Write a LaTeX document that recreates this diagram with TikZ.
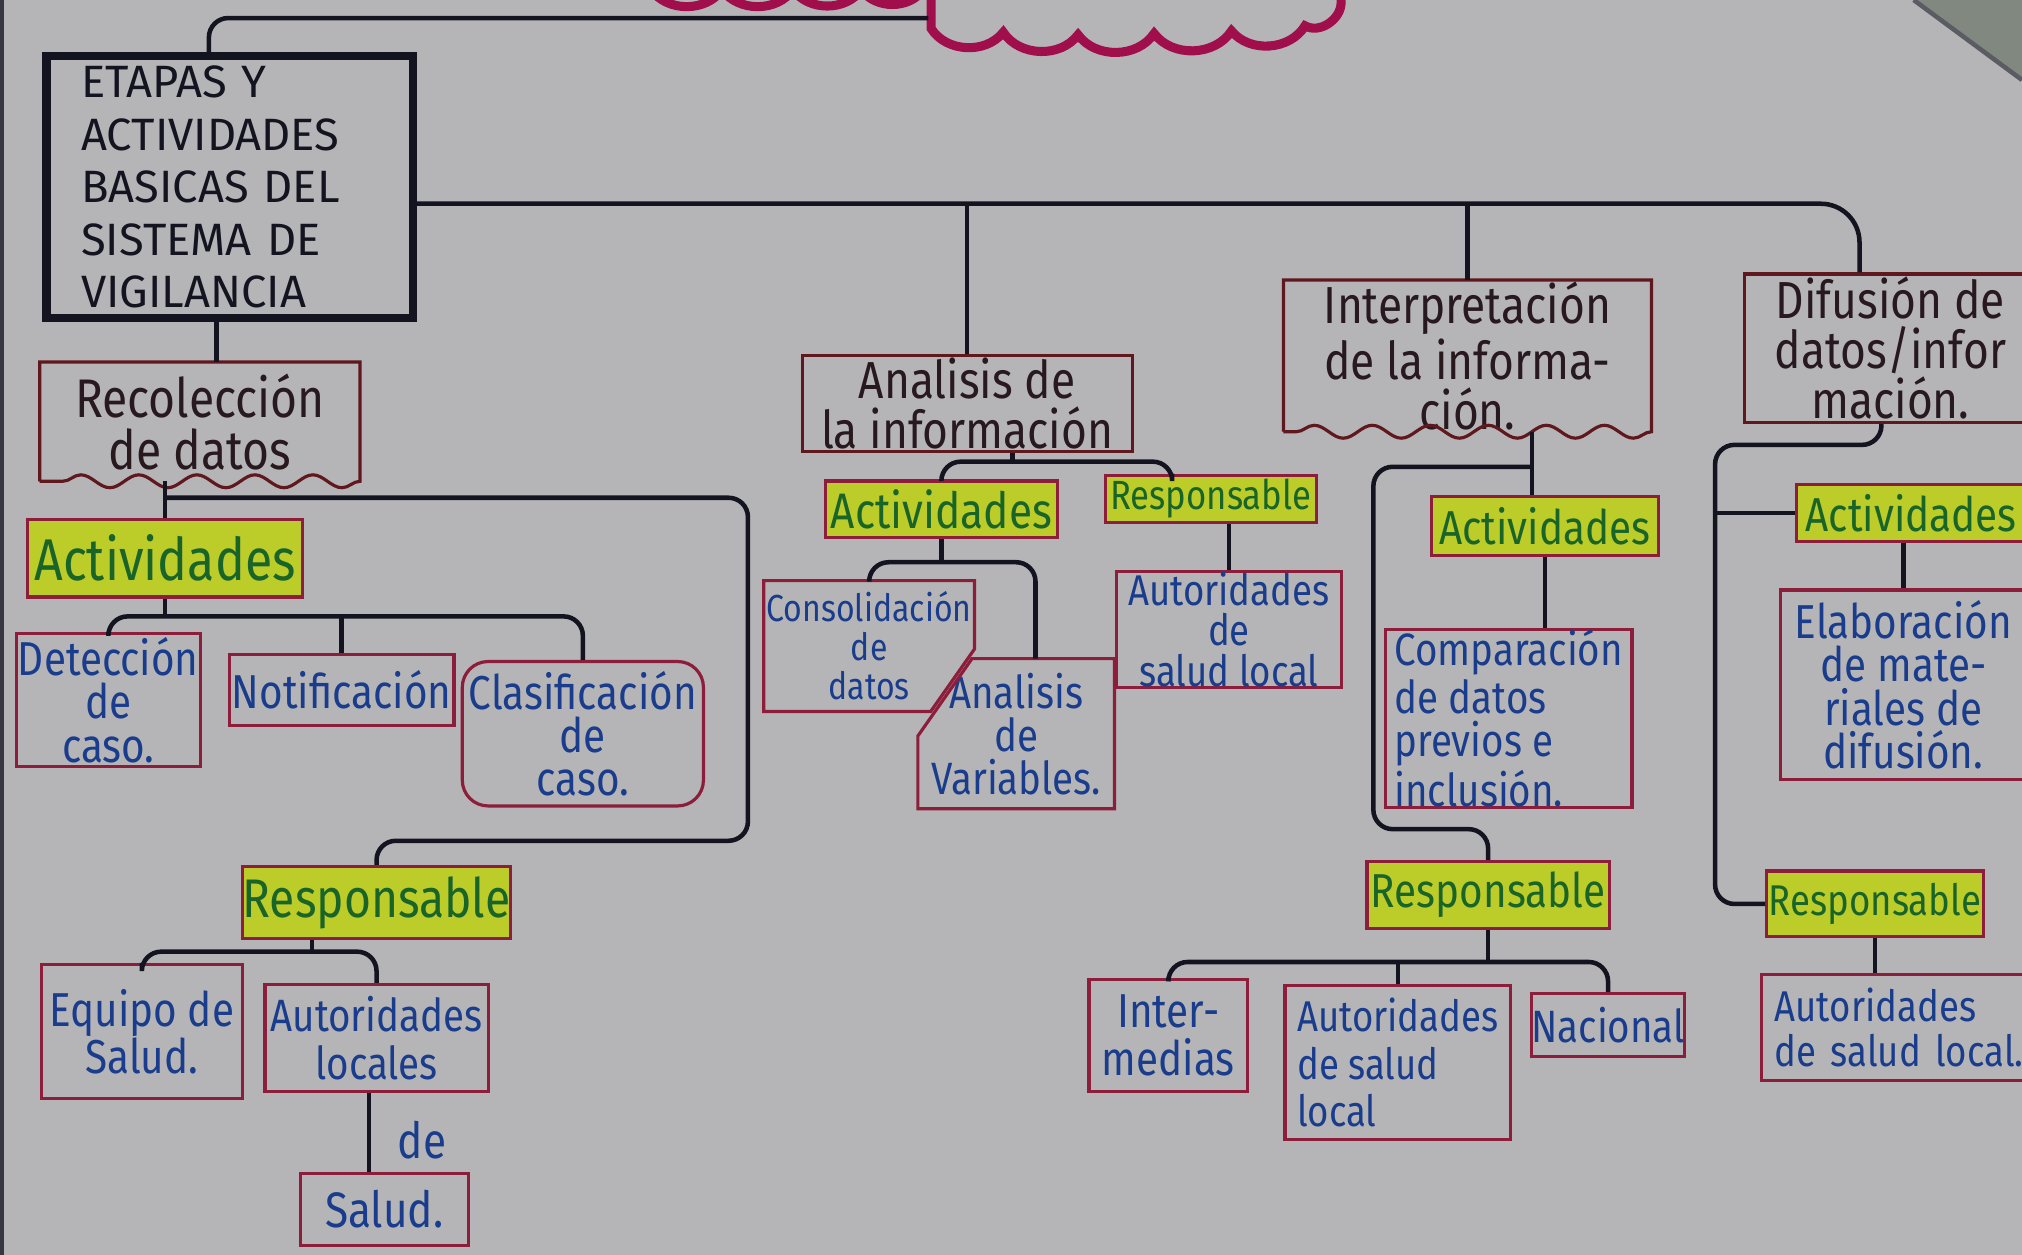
\documentclass[tikz,border=0pt]{standalone}
\usepackage{fontspec}
\setmainfont[FakeStretch=0.85]{Fira Sans}
\newfontfamily\titulo{Fira Sans}
\usetikzlibrary{decorations.pathmorphing}
\pgfdeclarelayer{bg}
\pgfsetlayers{bg,main}
\definecolor{papel}{RGB}{181,181,183}
\definecolor{tinta}{RGB}{20,20,32}
\definecolor{rojo}{RGB}{140,30,60}
\definecolor{rojoosc}{RGB}{95,25,30}
\definecolor{oscuro}{RGB}{40,25,30}
\definecolor{azul}{RGB}{25,60,140}
\definecolor{verde}{RGB}{25,100,40}
\definecolor{resalte}{RGB}{188,204,40}
\definecolor{magenta}{RGB}{160,15,75}
\definecolor{esquina}{RGB}{128,136,128}
\tikzset{
  enlace/.style={draw=tinta, line width=1pt, rounded corners=1.5mm},
  caja/.style={draw=rojo, line width=0.7pt, inner sep=0pt, align=center},
  contorno/.style={draw=rojoosc, line width=0.7pt},
  ola/.style={decoration={snake, amplitude=0.5mm, segment length=4.5mm}},
  principal/.style={draw=tinta, line width=1.8pt, inner sep=0pt, align=left,
    text=tinta, font=\titulo\fontsize{10}{11.6}\selectfont},
  etapa/.style={caja, draw=rojoosc, text=oscuro, font=\fontsize{12}{11.5}\selectfont},
  hoja/.style={caja, text=azul, font=\fontsize{10}{9.5}\selectfont},
  marca/.style={caja, fill=resalte, text=verde, font=\fontsize{11}{11}\selectfont},
  nube/.style={draw=magenta, line width=2pt},
}

\begin{document}
\begin{tikzpicture}[x=0.1mm,y=-0.1mm]
\useasboundingbox (0,0) rectangle (1568,973);
\begin{pgfonlayer}{bg}
  \fill[papel] (0,0) rectangle (1568,973);
  \fill[tinta!85] (0,0) rectangle (3,973);
  \fill[esquina] (1484,0) -- (1568,0) -- (1568,62) -- cycle;
  \draw[tinta!70, line width=1pt] (1484,0) -- (1568,62);
\end{pgfonlayer}

% titulo (cortado arriba)
\draw[nube] (722,0) -- (722,22) to[bend right=55] (778,25) to[bend right=55] (836,27)
  to[bend right=55] (895,26) to[bend right=55] (955,24) to[bend right=55] (1012,20)
  to[out=-30,in=-90] (1040,2) -- (1040,0);
\draw[nube] (505,-8) to[bend right=55] (560,-8) to[bend right=55] (615,-8)
  to[bend right=55] (668,-8) to[bend right=55] (716,-8);
\coordinate (tit) at (720,14);

\node[principal, minimum width=28.4mm, minimum height=20.3mm, text width=23mm] (main) at (178,145)
  {ETAPAS Y\\ACTIVIDADES\\BASICAS DEL\\SISTEMA DE\\VIGILANCIA};

% recoleccion de datos
\node[etapa, draw=none, minimum width=24.6mm, minimum height=9mm] (recol) at (155,327) {Recolección\\de datos};
\draw[contorno] (recol.south west) -- (recol.north west) -- (recol.north east) -- (recol.south east)
  decorate[ola]{-- (recol.south west)};
\node[marca, minimum width=21.3mm, minimum height=6mm, font=\fontsize{13}{13}\selectfont] (actL) at (128,433) {Actividades};
\node[hoja, minimum width=14.3mm, minimum height=10.3mm, font=\fontsize{10.5}{9.5}\selectfont] (dete) at (84,543) {Detección\\de\\caso.};
\node[hoja, minimum width=17.4mm, minimum height=5.5mm, font=\fontsize{10.5}{9.5}\selectfont] (noti) at (265,535) {Notificación};
\node[hoja, minimum width=18.7mm, minimum height=11.2mm, rounded corners=2mm, font=\fontsize{10.5}{9.5}\selectfont] (clas) at (452,569) {Clasificación\\de\\caso.};
\node[marca, minimum width=20.7mm, minimum height=5.6mm, font=\fontsize{12}{12}\selectfont] (respL) at (292,700) {Responsable};
\node[hoja, minimum width=15.6mm, minimum height=10.4mm, font=\fontsize{10.5}{10.5}\selectfont] (equi) at (110,800) {Equipo de\\Salud.};
\node[hoja, minimum width=17.3mm, minimum height=8.3mm, font=\fontsize{10}{10.5}\selectfont] (autL) at (292,805) {Autoridades\\locales};
\node[hoja, minimum width=13mm, minimum height=5.6mm, font=\fontsize{11}{11}\selectfont] (salud) at (298,938) {Salud.};

% analisis de la informacion
\node[etapa, minimum width=25.6mm, minimum height=7.4mm, font=\fontsize{11.5}{11}\selectfont] (anal) at (750,313) {Analisis de\\la información};
\node[marca, minimum width=18mm, minimum height=4.4mm] (actA) at (730,395) {Actividades};
\node[marca, minimum width=16.4mm, minimum height=3.7mm, font=\fontsize{9}{9}\selectfont] (respA) at (939,387) {Responsable};
\node[hoja, draw=none, minimum width=16.1mm, minimum height=9.9mm, font=\fontsize{8.3}{8.6}\selectfont] (cons) at (674,501) {Consolidación\\de\\datos};
\draw[caja] (cons.north west) -- (cons.north east) -- ([yshift=-5.3mm]cons.north east)
  -- ([xshift=-3.4mm]cons.south east) -- (cons.south west) -- cycle;
\node[hoja, draw=none, minimum width=15mm, minimum height=11.4mm] (anaV) at (788,569) {Analisis\\de\\Variables.};
\draw[caja] ([xshift=4.2mm]anaV.north west) -- (anaV.north east) -- (anaV.south east)
  -- (anaV.south west) -- ([yshift=-6mm]anaV.north west) -- cycle;
\node[hoja, minimum width=17.5mm, minimum height=7.7mm, font=\fontsize{9.5}{9}\selectfont] (autA) at (953,488) {Autoridades\\de\\salud local};

% interpretacion de la informacion
\node[etapa, draw=none, minimum width=28.3mm, minimum height=11.2mm, font=\fontsize{11.5}{11}\selectfont] (interp) at (1138,276)
  {Interpretación\\de la informa-\\ción.};
\draw[contorno] (interp.south west) -- (interp.north west) -- (interp.north east) -- (interp.south east)
  decorate[ola]{-- (interp.south west)};
\node[marca, minimum width=17.6mm, minimum height=4.6mm, font=\fontsize{10.5}{10.5}\selectfont] (actI) at (1198,408) {Actividades};
\node[hoja, minimum width=19.1mm, minimum height=12.5mm, align=left, font=\fontsize{10}{9.4}\selectfont] (comp) at (1170,557)
  {Comparación\\de datos\\previos e\\inclusión.};
\node[marca, minimum width=18.8mm, minimum height=5.2mm, font=\fontsize{10.5}{10.5}\selectfont] (respI) at (1154,694) {Responsable};
\node[hoja, minimum width=12.3mm, minimum height=8.7mm, font=\fontsize{10.5}{10.5}\selectfont] (inte) at (906,803) {Inter-\\medias};
\node[hoja, minimum width=17.5mm, minimum height=11.9mm, align=left, font=\fontsize{9.5}{10.5}\selectfont] (autI) at (1084,824)
  {Autoridades\\de salud\\local};
\node[hoja, minimum width=11.5mm, minimum height=4.9mm] (naci) at (1247,795) {Nacional};

% difusion de datos
\node[etapa, minimum width=22.6mm, minimum height=11.5mm, font=\fontsize{11.5}{11}\selectfont] (difu) at (1466,270) {Difusión de\\datos/infor\\mación.};
\node[marca, anchor=west, minimum height=4.4mm, text width=18mm, align=left, inner xsep=0.7mm,
  font=\fontsize{10.5}{10.5}\selectfont] (actD) at (1392,398) {Actividades};
\node[hoja, minimum width=19mm, minimum height=14.7mm, font=\fontsize{10.5}{9.5}\selectfont] (elab) at (1476,531)
  {Elaboración\\de mate-\\riales de\\difusión.};
\node[marca, minimum width=16.8mm, minimum height=5.1mm, font=\fontsize{9.5}{9.5}\selectfont] (respD) at (1454,701) {Responsable};
\node[hoja, anchor=west, minimum height=8.2mm, text width=21mm, align=left, inner xsep=1mm,
  font=\fontsize{9.5}{10}\selectfont] (autD) at (1365,797) {Autoridades\\de salud local.};

% conectores
\coordinate (mN) at ([xshift=-1.6mm]main.north);
\draw[enlace] (mN) |- (tit);
\coordinate (barra) at (0,158);
\coordinate (dD) at ([xshift=-2.4mm]difu.north);
\draw[enlace, rounded corners=3mm] (main.east |- barra) -- (dD |- barra) -- (dD);
\draw[enlace] (anal.north |- barra) -- (anal.north);
\draw[enlace] (interp.north |- barra) -- (interp.north);
\coordinate (mS) at ([xshift=-1mm]main.south);
\draw[enlace] (mS) -- (mS |- recol.north);

\coordinate (jR) at (128,386);
\coordinate (rielR) at (580,652);
\draw[enlace] (recol.south -| actL.north) -- (actL.north);
\draw[enlace] (jR) -| (rielR) -| (respL.north);
\coordinate (barraA) at (0,478);
\draw[enlace] (actL.south) -- (actL.south |- barraA);
\draw[enlace] (dete.north) |- (clas.north |- barraA) -- (clas.north);
\draw[enlace] (noti.north) -- (noti.north |- barraA);
\coordinate (barraR) at (0,738);
\coordinate (rS) at ([xshift=-5mm]respL.south);
\draw[enlace] (rS) -- (rS |- barraR);
\draw[enlace] (equi.north) |- (autL.north |- barraR) -- (autL.north);
\coordinate (aS) at ([xshift=-0.6mm]autL.south);
\draw[enlace] (aS) -- (aS |- salud.north)
  node[pos=0.6, right=0.9mm, text=azul, font=\fontsize{11}{11}\selectfont] (de) {de};

\coordinate (barraN) at (0,358);
\coordinate (nS) at ([xshift=3.5mm]anal.south);
\coordinate (rA) at ([xshift=-3mm]respA.north);
\draw[enlace] (nS) -- (nS |- barraN);
\draw[enlace] (actA.north) |- (rA |- barraN) -- (rA);
\coordinate (barraC) at (0,436);
\coordinate (vN) at ([xshift=1.5mm]anaV.north);
\draw[enlace] (actA.south) -- (actA.south |- barraC);
\draw[enlace] (cons.north) |- (vN |- barraC) -- (vN);
\draw[enlace] (autA.north |- respA.south) -- (autA.north);

\coordinate (jI) at ([xshift=5mm]interp.south);
\coordinate (jI2) at (1188,362);
\coordinate (rielI) at (1065,643);
\draw[enlace] (jI) -- (jI |- actI.north);
\draw[enlace] (jI2) -| (rielI) -| (respI.north);
\draw[enlace] (actI.south) -- (actI.south |- comp.north);
\coordinate (barraI) at (0,746);
\draw[enlace] (respI.south) -- (respI.south |- barraI);
\draw[enlace] (inte.north) |- (naci.north |- barraI) -- (naci.north);
\draw[enlace] (autI.north |- barraI) -- (autI.north);

\coordinate (fS) at ([xshift=-0.7mm]difu.south);
\coordinate (rielD) at (1330,345);
\draw[enlace] (fS) |- (rielD) |- (respD.west);
\draw[enlace] (rielD |- actD.west) -- (actD.west);
\draw[enlace] (elab.north |- actD.south) -- (elab.north);
\draw[enlace] (respD.south) -- (respD.south |- autD.north);
\end{tikzpicture}
\end{document}
